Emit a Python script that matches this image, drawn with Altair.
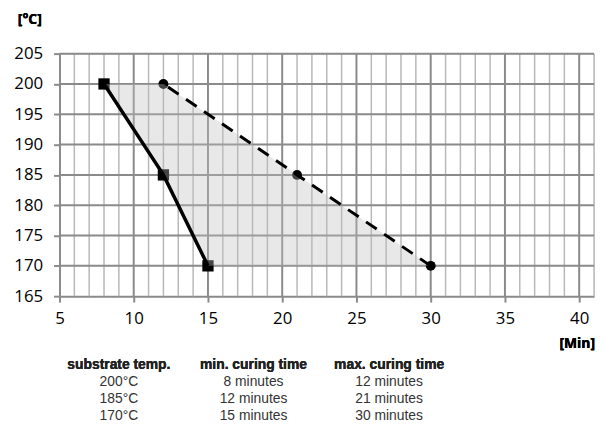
import altair as alt
import pandas as pd

# ---- data ----
temps = [200, 185, 170]
min_time = [8, 12, 15]
max_time = [12, 21, 30]

x_ticks = [5, 10, 15, 20, 25, 30, 35, 40]
y_ticks = [165, 170, 175, 180, 185, 190, 195, 200, 205]
x_minor = list(range(5, 42))

col_headers = ["substrate temp.", "min. curing time", "max. curing time"]
col_temp = ["200°C", "185°C", "170°C"]
col_min = ["8 minutes", "12 minutes", "15 minutes"]
col_max = ["12 minutes", "21 minutes", "30 minutes"]

df = pd.DataFrame({"temp": temps, "tmin": min_time, "tmax": max_time})
minor_df = pd.DataFrame({"x": [v for v in x_minor if v % 5 != 0]})
major_df = pd.DataFrame({"x": [v for v in x_minor if v % 5 == 0 and v > 5]})
hgrid_df = pd.DataFrame({"y": [v for v in y_ticks if v > 165]})

FONT = "Open Sans"
TFONT = "Liberation Sans"
GRID_MAJOR = "#8a8a8a"
GRID_MINOR = "#b8b8b8"

xs = alt.Scale(domain=[5, 41], nice=False, zero=False)
ys = alt.Scale(domain=[165, 205], nice=False, zero=False)

xaxis = alt.Axis(values=x_ticks, title=None)
yaxis = alt.Axis(values=y_ticks, title=None)

minor = alt.Chart(minor_df).mark_rule(color=GRID_MINOR, strokeWidth=1.5).encode(
    x=alt.X("x:Q", scale=xs, axis=xaxis))
major = alt.Chart(major_df).mark_rule(color=GRID_MAJOR, strokeWidth=2).encode(
    x=alt.X("x:Q", scale=xs, axis=xaxis))
hgrid = alt.Chart(hgrid_df).mark_rule(color=GRID_MAJOR, strokeWidth=2).encode(
    y=alt.Y("y:Q", scale=ys, axis=yaxis))

X = lambda f: alt.X(f, scale=xs, axis=xaxis)
Y = lambda f: alt.Y(f, scale=ys, axis=yaxis)

pts_min = alt.Chart(df).mark_point(shape="square", filled=True, color="black",
                                    size=130, opacity=1).encode(
    x=X("tmin:Q"), y=Y("temp:Q"))
pts_max = alt.Chart(df).mark_point(shape="circle", filled=True, color="black",
                                    size=100, opacity=1).encode(
    x=X("tmax:Q"), y=Y("temp:Q"))

area = alt.Chart(df).mark_area(orient="horizontal", color="#bfbfbf",
                               opacity=0.36).encode(
    y=Y("temp:Q"), x=X("tmin:Q"), x2="tmax:Q")

line_min = alt.Chart(df).mark_line(color="black", strokeWidth=3.5).encode(
    x=X("tmin:Q"), y=Y("temp:Q"), order="temp:Q")
line_max = alt.Chart(df).mark_line(color="black", strokeWidth=3,
                                   strokeDash=[13, 9]).encode(
    x=X("tmax:Q"), y=Y("temp:Q"), order="temp:Q")

unit_y = alt.Chart(df).mark_text(text="[°C]", font=FONT, fontSize=14,
                                 fontWeight="bold", fill="#000").encode(
    x=alt.value(-30), y=alt.value(-34))
unit_x = alt.Chart(df).mark_text(text="[Min]", font=FONT, fontSize=14,
                                 fontWeight="bold", fill="#000",
                                 align="right").encode(
    x=alt.value(541), y=alt.value(293))

col_x = [60, 196, 333]
row_scale = alt.Scale(domain=[0, 2], range=[0, 34])
table_layers = []
for cx, head, body in zip(col_x, col_headers, [col_temp, col_min, col_max]):
    table_layers.append(
        alt.Chart(df).mark_text(text=head, font=TFONT, fontSize=14,
                                fontWeight="bold", fill="#222").encode(
            x=alt.value(cx), y=alt.value(315)))
    body_df = pd.DataFrame({"row": list(range(len(body))), "label": body})
    table_layers.append(
        alt.Chart(body_df).mark_text(font=TFONT, fontSize=14,
                                     fontWeight="normal", fill="#333").encode(
            x=alt.value(cx), y=alt.value(332),
            yOffset=alt.YOffset("row:Q", scale=row_scale),
            text="label:N"))

chart = alt.layer(minor, major, hgrid, pts_min, pts_max, area, line_min,
                  line_max, unit_y, unit_x, *table_layers).properties(
    width=540, height=245,
    autosize=alt.AutoSizeParams(type="none"),
    padding={"left": 52, "top": 44, "right": 4, "bottom": 125},
).configure_view(stroke=None).configure(background="white").configure_axis(
    grid=False, domainColor=GRID_MAJOR, domainWidth=2, tickColor=GRID_MAJOR,
    tickWidth=2, tickSize=6, labelFont=FONT, labelFontSize=17,
    labelColor="#000", labelOverlap=False, labelFlush=False,
).configure_axisX(labelPadding=9).configure_axisY(labelPadding=11)

chart.save("out.html", embed_options={"renderer": "svg", "actions": False})
